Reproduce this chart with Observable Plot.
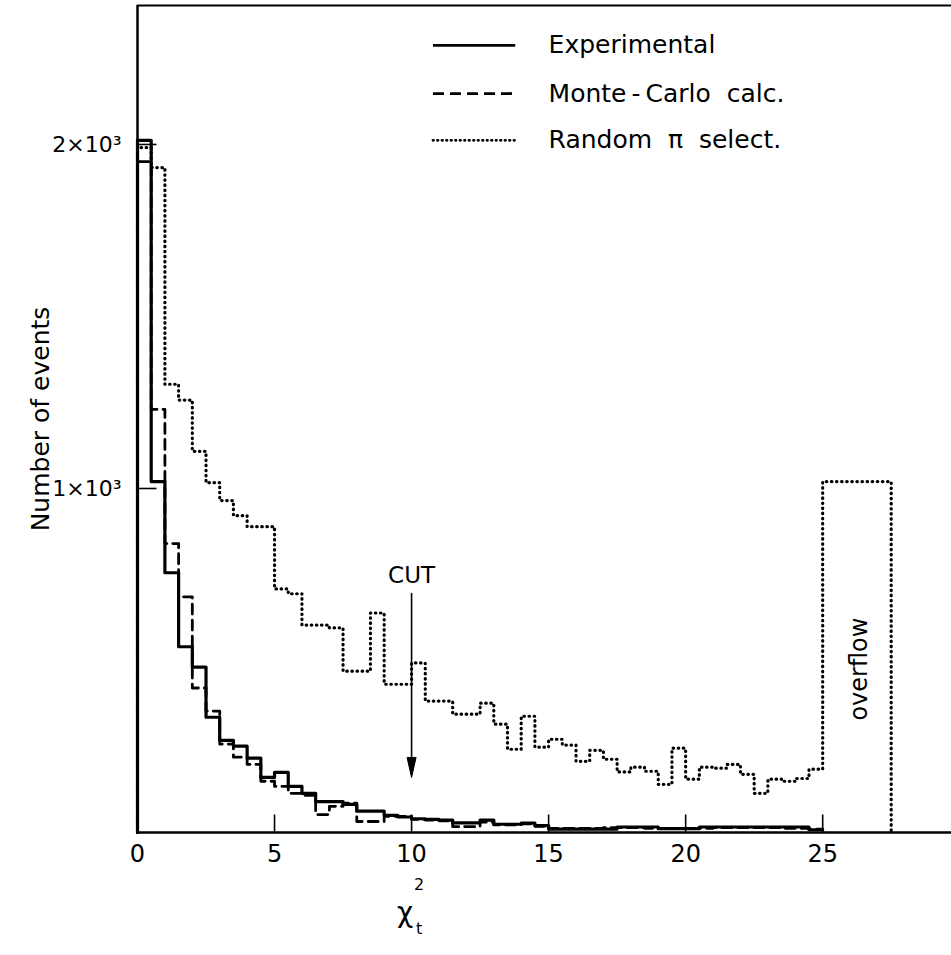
<!DOCTYPE html>
<html><head><meta charset="utf-8">
<script src="https://cdn.jsdelivr.net/npm/d3@7"></script>
<script src="https://cdn.jsdelivr.net/npm/@observablehq/plot@0.6"></script>
<style>
body{margin:0;background:#fff;}
#chart svg{display:block;}
</style></head><body><div id="chart"></div>
<script>
// ---- data (bin width 0.5 in chi^2_t, bins from 0 to 25) ----
const binWidth = 0.5;
const experimental = [2012,1020,755,540,481,335,268,251,216,160,
  175,134,114,90,90,82,62,62,50,45,
  40,38,36,28,28,36,24,24,27,20,
  10,10,10,10,10,16,16,16,11,11,
  11,16,16,16,16,16,16,16,16,8];
const monteCarlo = [1950,1230,840,685,420,353,257,219,198,149,
  134,114,108,52,76,85,32,32,47,47,
  38,36,34,17,17,30,22,22,25,18,
  12,12,12,12,14,14,14,12,12,12,
  12,12,14,14,14,14,14,12,12,10];
const randomPi = [1991,1933,1303,1257,1108,1017,965,921,889,889,
  708,694,603,603,595,469,469,638,431,431,
  493,382,382,344,344,376,315,242,338,248,
  271,254,207,239,213,176,190,178,140,245,
  155,190,187,198,169,114,155,149,157,184];
const overflowRange = [25, 27.5];
const overflowValue = 1020;
const xTicks = [0,5,10,15,20,25];
const yTicks = [1000,2000];
const legendItems = ["Experimental","Monte\u2009-\u2009Carlo  calc.","Random  \u03c0  select."];
const cutValue = 10;

// ---- build step series ----
function steps(vals){
  const pts = [{x:0,y:0}];
  vals.forEach((v,i)=>pts.push({x:i*binWidth,y:v}));
  pts.push({x:vals.length*binWidth,y:vals[vals.length-1]});
  return pts;
}
const expPts = steps(experimental);
const mcPts = steps(monteCarlo);
const rndPts = steps(randomPi);
rndPts.push({x:overflowRange[0],y:overflowValue});
rndPts.push({x:overflowRange[1],y:0});

const xMax = 29.7, yMax = 2404;
const font = "DejaVu Sans";
const tickUp = {draw(ctx){ctx.moveTo(0,0);ctx.lineTo(0,-18);}};
const tickRight = {draw(ctx){ctx.moveTo(0,0);ctx.lineTo(19,0);}};
const arrowHead = {draw(ctx){ctx.moveTo(0,0);ctx.lineTo(-4.5,-20);ctx.lineTo(4.5,-20);ctx.closePath();}};

const legendX = [10.8, 13.8], legendTextX = 15.0, legendY = [2288, 2148, 2012];
const dotDash = "0.5,4.6";

const chart = Plot.plot({
  width: 951, height: 955,
  marginLeft: 137, marginRight: 0, marginTop: 5, marginBottom: 123,
  style: {fontFamily: font, background: "#fff", color: "#000"},
  x: {domain: [0, xMax]},
  y: {domain: [0, yMax]},
  marks: [
    Plot.axisX({ticks: xTicks, tickSize: 0, tickPadding: 12, fontSize: 24, label: null}),
    Plot.axisY({ticks: yTicks, tickSize: 0, tickPadding: 16, fontSize: 22,
      tickFormat: d => `${d/1000}\u00d710\u00b3`, label: null}),
    Plot.text(["Number of events"], {frameAnchor: "left", dx: -97, rotate: -90, text: d=>d, fontSize: 25, textAnchor: "middle"}),
    Plot.ruleX([0], {strokeWidth: 2.5}),
    Plot.ruleY([0], {strokeWidth: 2.5}),
    Plot.ruleY([yMax], {strokeWidth: 2}),
    Plot.dot(xTicks.slice(1), {x: d=>d, y: 0, symbol: tickUp, stroke: "black", strokeWidth: 1.6, fill: "none"}),
    Plot.dot(yTicks, {x: 0, y: d=>d, symbol: tickRight, stroke: "black", strokeWidth: 1.6, fill: "none"}),
    Plot.line(rndPts, {x:"x", y:"y", curve:"step-after", stroke:"black", strokeWidth:3.2, strokeDasharray:dotDash, strokeLinecap:"round"}),
    Plot.line(mcPts, {x:"x", y:"y", curve:"step-after", stroke:"black", strokeWidth:2.8, strokeDasharray:"10,6"}),
    Plot.line(expPts, {x:"x", y:"y", curve:"step-after", stroke:"black", strokeWidth:3.2}),
    // CUT arrow
    Plot.ruleX([cutValue], {y1: 695, y2: 175, strokeWidth: 1.6}),
    Plot.dot([cutValue], {x: d=>d, y: 160, symbol: arrowHead, fill: "black", stroke: "black", strokeWidth: 1}),
    Plot.text(["CUT"], {x: cutValue, y: 748, text: d=>d, fontSize: 23, textAnchor: "middle"}),
    // overflow label
    Plot.text(["overflow"], {x: 26.35, y: 475, text: d=>d, fontSize: 24, rotate: -90, textAnchor: "middle", letterSpacing: 1.5}),
    // legend
    Plot.ruleY([legendY[0]], {x1: legendX[0], x2: legendX[1], strokeWidth: 2.8}),
    Plot.ruleY([legendY[1]], {x1: legendX[0], x2: legendX[1], strokeWidth: 2.8, strokeDasharray: "11,6"}),
    Plot.ruleY([legendY[2]], {x1: legendX[0], x2: legendX[1], strokeWidth: 2.8, strokeDasharray: "0.5,4", strokeLinecap: "round"}),
    Plot.text(legendItems.map((t,i)=>({t, y: legendY[i]})), {x: legendTextX, y: "y", text: "t", textAnchor: "start", fontSize: 25, letterSpacing: 1})
  ]
});
document.getElementById("chart").appendChild(chart);

// x-axis label chi^2_t
const svg = d3.select(chart);
const xs = chart.scale("x");
const lx = xs.apply(10);
const g = svg.append("g").attr("font-family", font).attr("fill", "black");
g.append("text").attr("x", lx + 2).attr("y", 922).attr("font-size", 28).attr("text-anchor", "end").text("\u03c7");
g.append("text").attr("x", lx + 8).attr("y", 890).attr("font-size", 16).text("2");
g.append("text").attr("x", lx + 8).attr("y", 934).attr("font-size", 16).text("t");
</script></body></html>
